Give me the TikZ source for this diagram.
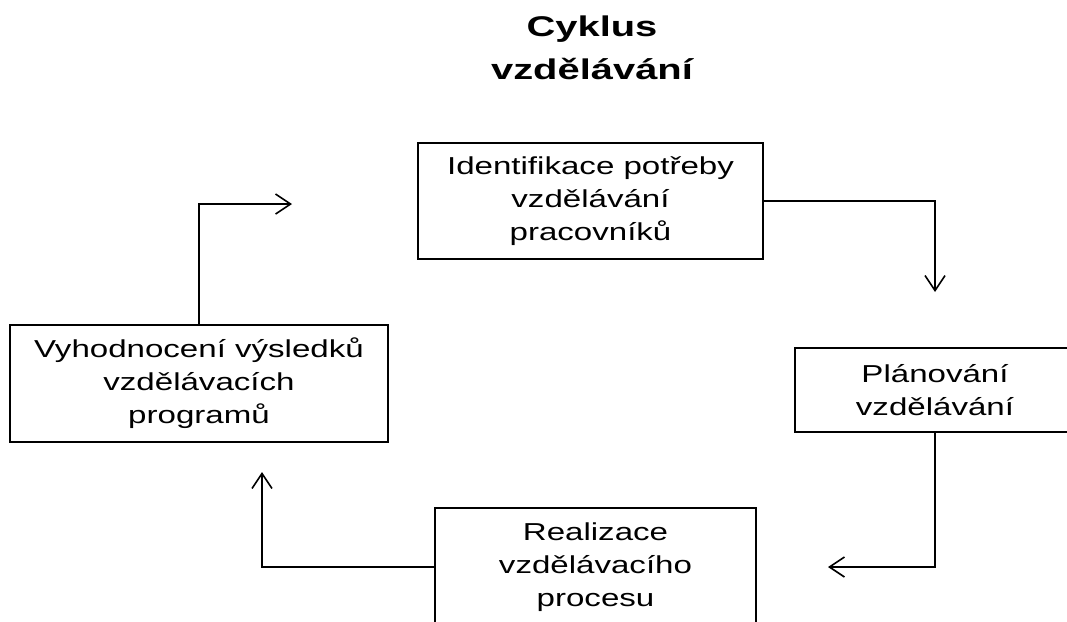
\documentclass[tikz,border=0pt]{standalone}
\usepackage{fontspec}
\setmainfont{Liberation Sans}[FakeStretch=1.35]
\newfontfamily\titlefont{Liberation Sans}[FakeStretch=1.4]
\usetikzlibrary{arrows.meta}
\begin{document}
\begin{tikzpicture}[x=1pt,y=-1pt,
  stagebox/.style={draw=black, line width=1.6pt, fill=white, align=center,
    inner sep=0pt, font=\fontsize{24.5}{33}\selectfont},
  cycarrow/.style={draw=black, line width=1.6pt,
    -{Straight Barb[length=15pt,width=20pt,line width=1.6pt]}},
  titlestyle/.style={align=center, inner sep=0pt,
    font=\titlefont\bfseries\fontsize{28.5}{43}\selectfont}]
\path[use as bounding box, clip] (0,0) rectangle (1067,621);
\fill[white] (0,0) rectangle (1067,621);

\node[titlestyle] (title) at (592,48) {Cyklus\\vzdělávání};

\node[stagebox, minimum width=345pt, minimum height=116pt] (A) at (590.5,201)
  {Identifikace potřeby\\vzdělávání\\pracovníků};
\node[stagebox, minimum width=280pt, minimum height=84pt] (B) at (935,390)
  {Plánování\\vzdělávání};
\node[stagebox, minimum width=321pt, minimum height=118pt] (C) at (595.5,567)
  {Realizace\\vzdělávacího\\procesu};
\node[stagebox, minimum width=378pt, minimum height=117pt] (D) at (199,383.5)
  {Vyhodnocení výsledků\\vzdělávacích\\programů};

\coordinate (tAB) at (935,292);
\coordinate (tBC) at (828,567);
\coordinate (tCD) at (262,472);
\coordinate (tDA) at (292,204);

\draw[cycarrow] (A.east) -| (tAB);
\draw[cycarrow] (B.south) |- (tBC);
\draw[cycarrow] (C.west) -| (tCD);
\draw[cycarrow] (D.north) |- (tDA);
\end{tikzpicture}
\end{document}
